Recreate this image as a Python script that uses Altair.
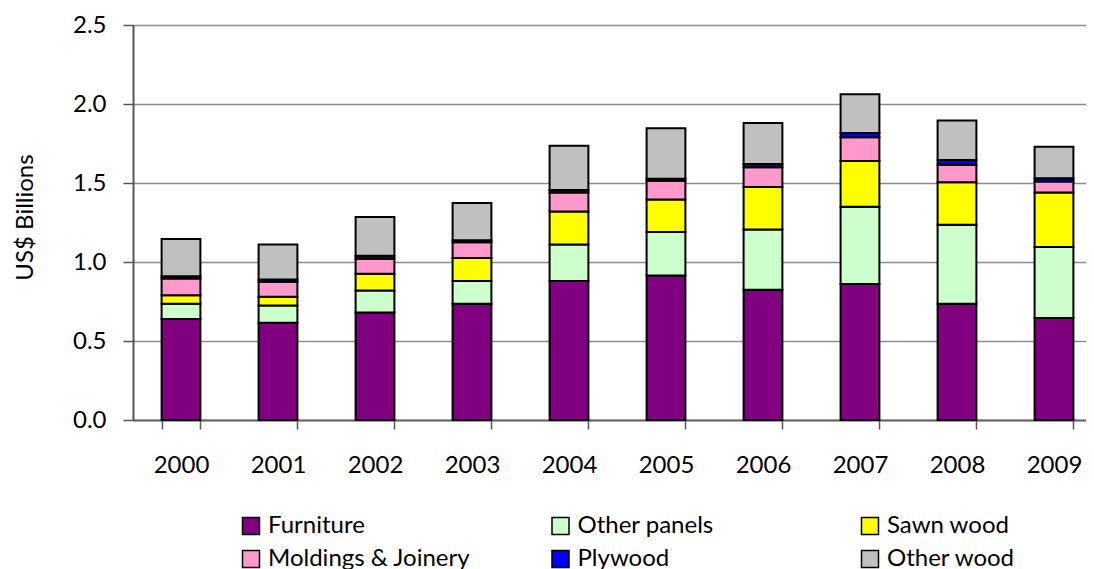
import altair as alt
import pandas as pd

years = ["2000", "2001", "2002", "2003", "2004", "2005", "2006", "2007", "2008", "2009"]
categories = ["Furniture", "Other panels", "Sawn wood", "Moldings & Joinery", "Plywood", "Other wood"]
colors = ["#800080", "#CCFFCC", "#FFFF00", "#FF99CC", "#0000FF", "#C0C0C0"]

furniture = [0.64, 0.615, 0.68, 0.735, 0.88, 0.915, 0.825, 0.86, 0.735, 0.645]
other_panels = [0.095, 0.11, 0.14, 0.145, 0.23, 0.275, 0.38, 0.49, 0.50, 0.45]
sawn_wood = [0.055, 0.055, 0.105, 0.145, 0.21, 0.205, 0.27, 0.29, 0.27, 0.345]
moldings = [0.105, 0.095, 0.095, 0.10, 0.12, 0.12, 0.125, 0.15, 0.11, 0.07]
plywood = [0.015, 0.015, 0.02, 0.012, 0.015, 0.012, 0.02, 0.027, 0.03, 0.02]
other_wood = [0.235, 0.22, 0.245, 0.237, 0.28, 0.32, 0.26, 0.245, 0.25, 0.20]

y_ticks = [0, 0.5, 1.0, 1.5, 2.0, 2.5]

series = [furniture, other_panels, sawn_wood, moldings, plywood, other_wood]
rows = []
for i, yr in enumerate(years):
    for k, (cat, vals) in enumerate(zip(categories, series)):
        rows.append({"year": yr, "category": cat, "value": vals[i], "order": k})
df = pd.DataFrame(rows)

FONT = "Lato"

chart = alt.Chart(df).mark_bar(stroke="black", strokeWidth=2).encode(
    x=alt.X(
        "year:N",
        sort=years,
        title=None,
        scale=alt.Scale(paddingInner=0.6, paddingOuter=0.2124, align=0.694),
        axis=alt.Axis(
            labelAngle=0,
            tickBand="extent",
            labelFont=FONT,
            labelFontSize=24,
            labelColor="black",
            labelPadding=24,
            tickSize=9,
            tickColor="#555555",
            tickWidth=1.5,
            domainColor="#666666",
            domainWidth=2,
            grid=False,
        ),
    ),
    y=alt.Y(
        "value:Q",
        stack="zero",
        scale=alt.Scale(domain=[0, 2.5], nice=False),
        axis=alt.Axis(
            values=y_ticks,
            format=".1f",
            title="US$ Billions",
            titleFont=FONT,
            titleFontSize=24,
            titleFontWeight="normal",
            titleColor="black",
            titleAngle=270,
            titleBaseline="middle",
            titleAlign="center",
            titleX=-108,
            titleY=192,
            labelFont=FONT,
            labelFontSize=24,
            labelColor="black",
            labelPadding=17,
            tickSize=10,
            tickColor="#555555",
            tickWidth=1.5,
            domainColor="#555555",
            domainWidth=2,
            grid=True,
            gridColor="#8c8c8c",
            gridWidth=1.5,
        ),
    ),
    color=alt.Color(
        "category:N",
        scale=alt.Scale(domain=categories, range=colors),
        legend=alt.Legend(
            title=None,
            orient="none",
            direction="horizontal",
            legendX=106,
            legendY=489,
            columns=3,
            gridAlign="all",
            columnPadding=77.5,
            rowPadding=9,
            symbolType="square",
            symbolSize=289,
            symbolStrokeColor="black",
            symbolStrokeWidth=1.5,
            symbolOpacity=1,
            labelFont=FONT,
            labelFontSize=24,
            labelColor="black",
            labelOffset=5,
            labelLimit=400,
        ),
    ),
    order=alt.Order("order:Q"),
).properties(
    width=953,
    height=395,
    autosize=alt.AutoSizeParams(type="none"),
    padding={"left": 125, "top": 17, "right": 0, "bottom": 150},
).configure_view(stroke=None).configure(background="white")

chart.save("out.html", embed_options={"renderer": "svg", "actions": False})
